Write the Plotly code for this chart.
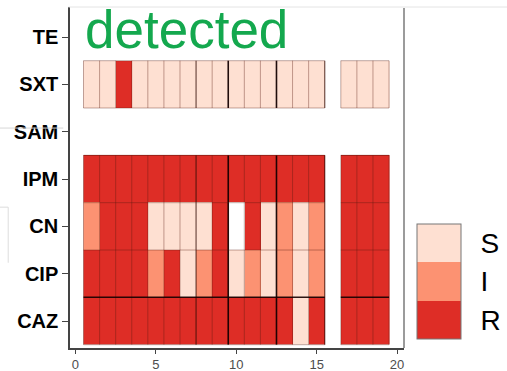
import plotly.graph_objects as go

# ---------------- data ----------------
drugs = ["CAZ", "CIP", "CN", "IPM", "SAM", "SXT", "TE"]          # bottom -> top
isolates = list(range(1, 20))                                       # x positions 1..19
# one string per drug, one letter per isolate; "-" = no result
calls = {
    "CAZ": "RRRRRRRRRRRRRSR-RRR",
    "CIP": "RRRRIRSIRSISISI-RRR",
    "CN":  "IRRRSSSSR-RSISI-RRR",
    "IPM": "RRRRRRRRRRRRRRR-RRR",
    "SAM": "-------------------",
    "SXT": "SSRSSSSSSSSSSSS-SSS",
    "TE":  "-------------------",
}
categories = ["R", "I", "S"]
cat_colors = ["#de2d26", "#fc9272", "#fee0d2"]
group_breaks = [7.5, 9.5, 12.5]          # darker separators between isolate groups
x_ticks = [0, 5, 10, 15, 20]

code = {c: i for i, c in enumerate(categories)}
z = [[code.get(ch) for ch in calls[d]] for d in drugs]

cs = []
n = len(categories)
for i, col in enumerate(cat_colors):
    cs.append([i / n, col])
    cs.append([(i + 1) / n, col])

fig = go.Figure()
fig.add_trace(go.Heatmap(
    x=isolates, y=drugs, z=z, zmin=-0.5, zmax=n - 0.5,
    colorscale=cs, hoverongaps=False,
    colorbar=dict(
        x=1.039, xanchor="left", y=0.0264, yanchor="bottom",
        len=0.337, lenmode="fraction", thickness=44, thicknessmode="pixels",
        xpad=0, ypad=0,
        tickvals=list(range(n)), ticktext=categories,
        ticks="outside", ticklen=14, tickcolor="rgba(0,0,0,0)",
        tickfont=dict(size=28, color="black", family="Liberation Sans, Arial"),
        outlinecolor="#777", outlinewidth=1,
    ),
))

# ---------- cell borders derived from the data ----------
shapes = []
present_rows = [i for i, d in enumerate(drugs) if any(v is not None for v in z[i])]
col_present = [any(z[r][j] is not None for r in present_rows) for j in range(len(isolates))]
col_blocks = []
j = 0
while j < len(isolates):
    if col_present[j]:
        k = j
        while k + 1 < len(isolates) and col_present[k + 1]:
            k += 1
        col_blocks.append((isolates[j], isolates[k]))
        j = k + 1
    else:
        j += 1
row_blocks = []
r = 0
while r < len(drugs):
    if r in present_rows:
        k = r
        while k + 1 in present_rows:
            k += 1
        row_blocks.append((r, k))
        r = k + 1
    else:
        r += 1

thin = dict(color="rgba(90,25,15,0.38)", width=1)
for (c0, c1) in col_blocks:
    for (r0, r1) in row_blocks:
        for c in range(c0, c1 + 2):
            xx = c - 0.5
            ln = thin
            if xx in group_breaks[1:]:
                ln = dict(color="rgba(20,0,0,0.95)", width=1.6)
            elif xx in group_breaks[:1] or xx == c1 + 0.5 and c1 < 16:
                ln = dict(color="rgba(50,10,5,0.65)", width=1.3)
            shapes.append(dict(type="line", xref="x", yref="y", x0=xx, x1=xx,
                               y0=r0 - 0.5, y1=r1 + 0.5, line=ln))
        for rr in range(r0, r1 + 2):
            yy = rr - 0.5
            ln = thin
            if r1 > r0 and yy == r0 + 0.5:
                ln = dict(color="rgba(20,0,0,0.9)", width=1.5)
            elif r1 > r0 and yy == r1 + 0.5:
                ln = dict(color="rgba(90,20,10,0.55)", width=1)
            shapes.append(dict(type="line", xref="x", yref="y", x0=c0 - 0.5, x1=c1 + 0.5,
                               y0=yy, y1=yy, line=ln))

# panel frame (right / top) and faint screenshot edges
shapes.append(dict(type="line", xref="paper", yref="paper", x0=1, x1=1, y0=0, y1=0.997,
                   line=dict(color="#7a7a7a", width=1.5)))
shapes.append(dict(type="line", xref="paper", yref="paper", x0=-0.005, x1=1.32, y0=1, y1=1,
                   line=dict(color="#e4e4e4", width=1)))
shapes.append(dict(type="line", xref="paper", yref="paper", x0=-0.21, x1=-0.02, y0=0.645, y1=0.645,
                   line=dict(color="#d8d8d8", width=1)))
shapes.append(dict(type="line", xref="paper", yref="paper", x0=-0.21, x1=-0.185, y0=0.413, y1=0.413,
                   line=dict(color="#dddddd", width=1)))
shapes.append(dict(type="line", xref="paper", yref="paper", x0=-0.185, x1=-0.185, y0=0.413, y1=0.25,
                   line=dict(color="#dddddd", width=1)))

fig.update_layout(
    width=507, height=371,
    margin=dict(l=70, r=103, t=7, b=23, autoexpand=False),
    paper_bgcolor="white", plot_bgcolor="white",
    font=dict(family="Liberation Sans, Arial", color="black"),
    shapes=shapes,
    showlegend=False,
    annotations=[dict(
        text="detected", xref="paper", yref="paper", x=0.038, y=0.934,
        xanchor="left", yanchor="middle", showarrow=False,
        font=dict(size=53, color="#14a84e", family="Liberation Sans, Arial"),
    )],
)
fig.update_xaxes(
    range=[-0.34, 20.43], tickvals=x_ticks, ticktext=[str(t) for t in x_ticks],
    showgrid=False, zeroline=False, showline=True, linecolor="#444", linewidth=1.5,
    ticks="outside", ticklen=4, tickcolor="#444", tickwidth=1,
    tickfont=dict(size=13, color="#4d4d4d"),
)
fig.update_yaxes(
    type="category", range=[-0.57, 6.634], categoryorder="array", categoryarray=drugs,
    showgrid=False, zeroline=False, showline=True, linecolor="#444", linewidth=1.5,
    ticks="outside", ticklen=6, tickcolor="#444", tickwidth=1,
    tickfont=dict(size=20, color="black", weight="bold"),
)

fig.write_html("out.html")
